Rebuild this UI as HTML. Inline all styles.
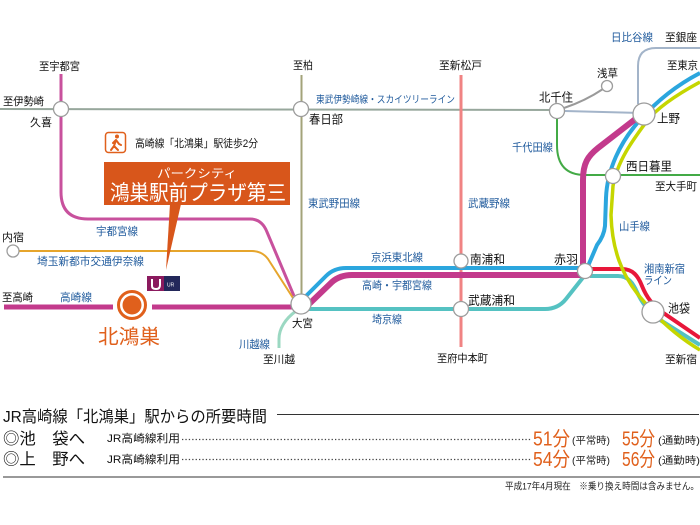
<!DOCTYPE html>
<html><head><meta charset="utf-8"><style>
html,body{margin:0;padding:0;background:#fff;}
svg{display:block;}
text{font-family:"Liberation Sans","Noto Sans CJK JP",sans-serif;}
.k{fill:#111;font-size:11px;}
.s{fill:#111;font-size:12px;}
.b{fill:#1f5a9c;font-size:11px;}
</style></head><body>
<svg width="700" height="525" viewBox="0 0 700 525" xmlns="http://www.w3.org/2000/svg">
<rect width="700" height="525" fill="#fff"/>
<g fill="none" stroke-linecap="butt" stroke-linejoin="round">
<!-- Tobu Isesaki -->
<path d="M0,109 L557,110" stroke="#97a79c" stroke-width="2"/>
<!-- Hibiya -->
<path d="M565,111 L640,113" stroke="#a3b4c9" stroke-width="2"/>
<path d="M638,104 L638,66 Q638,48 656,48 L700,48" stroke="#a3b4c9" stroke-width="2"/>
<!-- Asakusa -->
<path d="M564,108 Q585,101 603,89" stroke="#9a9a9a" stroke-width="2"/>
<!-- Chiyoda -->
<path d="M557,118 L557,145 Q557,175 585,175 L700,175" stroke="#43aa46" stroke-width="2"/>
<!-- Tobu Noda -->
<path d="M301.5,75 L301.5,296" stroke="#a3a37a" stroke-width="2"/>
<!-- Musashino -->
<path d="M461,75 L461,347" stroke="#f08383" stroke-width="3"/>
<!-- Utsunomiya thin -->
<path d="M61,74 L61,192 Q61,219 88,219 L250,219 Q262,219 267,232 L294,296" stroke="#c8519d" stroke-width="3"/>
<!-- Ina -->
<path d="M19,251 L252,251 Q262,251 268,259 L293,298" stroke="#e6a52c" stroke-width="2"/>
<!-- Kawagoe -->
<path d="M296,311 C285,319 279,329 279,339 L279,348" stroke="#9bd8c2" stroke-width="3"/>
<!-- Takasaki main -->
<path d="M4,307 L113,307" stroke="#c33a8c" stroke-width="5"/>
<path d="M152,307 L292,307" stroke="#c33a8c" stroke-width="5"/>
<!-- Saikyo -->
<path d="M305,309 L545,309 Q558,309 566,299 L585,275" stroke="#55c2c2" stroke-width="4"/>
<path d="M590,276 L618,276 C628,276 633,283 637,292 C641,301 647,310 657,318 L700,345" stroke="#55c2c2" stroke-width="4"/>
<!-- Red Shonan-Shinjuku -->
<path d="M590,269 L622,269 C633,269 638,276 642,286 C646,296 652,305 662,312 L700,338" stroke="#e8173a" stroke-width="4"/>
<!-- Keihin-Tohoku -->
<path d="M304,298 L326,276 Q334,268 346,268 L586,268" stroke="#2ba6de" stroke-width="4"/>
<path d="M588,266 L597,245 Q604,236 605,226 L606,198 C607,170 620,142 640,120 C655,103 675,86 700,73" stroke="#2ba6de" stroke-width="4"/>
<!-- Yamanote -->
<path d="M700,82 C676,95 657,108 647,121 C632,141 617,162 613,186 L611,215 C612,250 622,275 640,297 L653,312 C668,328 685,341 700,350" stroke="#c5d600" stroke-width="3.5"/>
<!-- Takasaki/Utsunomiya thick -->
<path d="M306,307 L332,282 Q340,275 352,275 L583,275 L583,180 C583,163 588,156 598,148 L638,117" stroke="#c33a8c" stroke-width="6"/>
</g>
<!-- stations -->
<g fill="#fff" stroke="#9c9c9c" stroke-width="1.3">
<circle cx="61" cy="109" r="7.5"/>
<circle cx="301" cy="109" r="7.5"/>
<circle cx="557" cy="111" r="7.5"/>
<circle cx="607" cy="86" r="5.5"/>
<circle cx="644" cy="114" r="11"/>
<circle cx="613" cy="176" r="7.5"/>
<circle cx="301" cy="304" r="10"/>
<circle cx="461" cy="261" r="7"/>
<circle cx="461" cy="309" r="7.5"/>
<circle cx="585" cy="271" r="7.5"/>
<circle cx="653" cy="312" r="11"/>
<circle cx="13" cy="251" r="6"/>
</g>
<!-- Kitakonosu marker -->
<circle cx="132" cy="305" r="13.5" fill="#fff" stroke="#e0601c" stroke-width="3"/>
<circle cx="132" cy="305" r="9.5" fill="#e0601c"/>
<!-- callout -->
<rect x="104" y="162" width="186" height="43" fill="#d8561b"/>
<polygon points="170,204 181,204 166,270" fill="#d8561b"/>
<!-- UR logo -->
<rect x="147" y="276" width="17" height="15" fill="#8b1a5e"/>
<rect x="164" y="276" width="16" height="15" fill="#23285a"/>
<path d="M152,279 L152,286 Q152,289 156,289 Q160,289 160,285 L160,279" fill="none" stroke="#fff" stroke-width="2"/>
<text x="167" y="286.5" font-size="5" fill="#fff" style="font-size:5px">UR</text>
<!-- walk icon -->
<rect x="105.5" y="132.5" width="20" height="20" rx="3" fill="#fff" stroke="#e0601c" stroke-width="1.5"/>
<g fill="#e0601c" stroke="#e0601c" stroke-linecap="round">
<circle cx="117" cy="136.5" r="2" stroke="none"/>
<path d="M116,140 L114,146 M116,140 L119,144 L121,145 M116,140 L113,143 M114,146 L111,150 M114,146 L118,150" stroke-width="2" fill="none"/>
</g>
<!-- labels -->
<text class="k" x="39" y="70.2" textLength="41" lengthAdjust="spacingAndGlyphs">至宇都宮</text>
<text class="k" x="3" y="105.2" textLength="41" lengthAdjust="spacingAndGlyphs">至伊勢崎</text>
<text class="k" x="30" y="126.2" textLength="22" lengthAdjust="spacingAndGlyphs">久喜</text>
<text class="k" x="293" y="69.2" textLength="20" lengthAdjust="spacingAndGlyphs">至柏</text>
<text class="s" x="309" y="123.6" textLength="34" lengthAdjust="spacingAndGlyphs">春日部</text>
<text class="b" x="316" y="102.8" textLength="139" lengthAdjust="spacingAndGlyphs" style="font-size:10px">東武伊勢崎線・スカイツリーライン</text>
<text class="k" x="439" y="69.2" textLength="43" lengthAdjust="spacingAndGlyphs">至新松戸</text>
<text class="s" x="539" y="101.6" textLength="34" lengthAdjust="spacingAndGlyphs">北千住</text>
<text class="k" x="597" y="77.2" textLength="21" lengthAdjust="spacingAndGlyphs">浅草</text>
<text class="b" x="611" y="41.2" textLength="42" lengthAdjust="spacingAndGlyphs">日比谷線</text>
<text class="k" x="665" y="41.2" textLength="32" lengthAdjust="spacingAndGlyphs">至銀座</text>
<text class="k" x="667" y="69.2" textLength="31" lengthAdjust="spacingAndGlyphs">至東京</text>
<text class="s" x="657" y="122.6" textLength="23" lengthAdjust="spacingAndGlyphs">上野</text>
<text class="b" x="512" y="151.2" textLength="41" lengthAdjust="spacingAndGlyphs">千代田線</text>
<text class="s" x="626" y="170.6" textLength="46" lengthAdjust="spacingAndGlyphs">西日暮里</text>
<text class="k" x="655" y="190.2" textLength="42" lengthAdjust="spacingAndGlyphs">至大手町</text>
<text class="k" x="135" y="147.2" textLength="123" lengthAdjust="spacingAndGlyphs">高崎線「北鴻巣」駅徒歩2分</text>
<text x="157" y="177.6" textLength="80" lengthAdjust="spacingAndGlyphs" style="font-size:12px;fill:#fff">パークシティ</text>
<text x="110" y="200" textLength="176" lengthAdjust="spacingAndGlyphs" style="font-size:21px;fill:#fff">鴻巣駅前プラザ第三</text>
<text class="b" x="308" y="207.2" textLength="52" lengthAdjust="spacingAndGlyphs">東武野田線</text>
<text class="b" x="468" y="207.2" textLength="42" lengthAdjust="spacingAndGlyphs">武蔵野線</text>
<text class="b" x="96" y="235.2" textLength="42" lengthAdjust="spacingAndGlyphs">宇都宮線</text>
<text class="k" x="2" y="241.2" textLength="22" lengthAdjust="spacingAndGlyphs">内宿</text>
<text class="b" x="37" y="265.2" textLength="107" lengthAdjust="spacingAndGlyphs">埼玉新都市交通伊奈線</text>
<text class="k" x="2" y="301.2" textLength="31" lengthAdjust="spacingAndGlyphs">至高崎</text>
<text class="b" x="60" y="301.2" textLength="32" lengthAdjust="spacingAndGlyphs">高崎線</text>
<text x="98" y="343.6" textLength="62" lengthAdjust="spacingAndGlyphs" style="font-size:20px;fill:#e0601c">北鴻巣</text>
<text class="k" x="292" y="327.2" textLength="21" lengthAdjust="spacingAndGlyphs">大宮</text>
<text class="b" x="239" y="348.2" textLength="31" lengthAdjust="spacingAndGlyphs">川越線</text>
<text class="k" x="263" y="363.2" textLength="32" lengthAdjust="spacingAndGlyphs">至川越</text>
<text class="b" x="371" y="261.2" textLength="52" lengthAdjust="spacingAndGlyphs">京浜東北線</text>
<text class="b" x="362" y="289.2" textLength="70" lengthAdjust="spacingAndGlyphs">高崎・宇都宮線</text>
<text class="b" x="372" y="323.2" textLength="30" lengthAdjust="spacingAndGlyphs">埼京線</text>
<text class="s" x="470" y="263.6" textLength="35" lengthAdjust="spacingAndGlyphs">南浦和</text>
<text class="s" x="468" y="304.6" textLength="47" lengthAdjust="spacingAndGlyphs">武蔵浦和</text>
<text class="k" x="437" y="362.2" textLength="51" lengthAdjust="spacingAndGlyphs">至府中本町</text>
<text class="s" x="554" y="263.6" textLength="24" lengthAdjust="spacingAndGlyphs">赤羽</text>
<text class="b" x="619" y="230.2" textLength="31" lengthAdjust="spacingAndGlyphs">山手線</text>
<text class="b" x="644" y="272.5" textLength="41" lengthAdjust="spacingAndGlyphs">湘南新宿</text>
<text class="b" x="644" y="284.2" textLength="28" lengthAdjust="spacingAndGlyphs">ライン</text>
<text class="s" x="668" y="312.6" textLength="22" lengthAdjust="spacingAndGlyphs">池袋</text>
<text class="k" x="665" y="363.2" textLength="32" lengthAdjust="spacingAndGlyphs">至新宿</text>
<!-- bottom table -->
<text x="3" y="422" textLength="264" lengthAdjust="spacingAndGlyphs" style="font-size:16px;fill:#111">JR高崎線「北鴻巣」駅からの所要時間</text>
<line x1="277" y1="414.5" x2="699" y2="414.5" stroke="#333" stroke-width="1"/>
<text x="3" y="444" textLength="82" lengthAdjust="spacingAndGlyphs" style="font-size:16px;fill:#111">◎池　袋へ</text>
<text x="3" y="464.5" textLength="82" lengthAdjust="spacingAndGlyphs" style="font-size:16px;fill:#111">◎上　野へ</text>
<text class="k" x="107" y="442.2" textLength="73" lengthAdjust="spacingAndGlyphs">JR高崎線利用</text>
<text class="k" x="107" y="463" textLength="73" lengthAdjust="spacingAndGlyphs">JR高崎線利用</text>
<line x1="182" y1="439.5" x2="531" y2="439.5" stroke="#444" stroke-width="1.3" stroke-dasharray="1.3,2.1"/>
<line x1="182" y1="459.5" x2="531" y2="459.5" stroke="#444" stroke-width="1.3" stroke-dasharray="1.3,2.1"/>
<g style="fill:#e0601c">
<text x="533" y="445.5" textLength="37" lengthAdjust="spacingAndGlyphs" style="font-size:20px">51分</text>
<text x="622" y="445.5" textLength="33" lengthAdjust="spacingAndGlyphs" style="font-size:20px">55分</text>
<text x="533" y="466" textLength="37" lengthAdjust="spacingAndGlyphs" style="font-size:20px">54分</text>
<text x="622" y="466" textLength="33" lengthAdjust="spacingAndGlyphs" style="font-size:20px">56分</text>
</g>
<g style="fill:#222">
<text x="572" y="443.8" textLength="38" lengthAdjust="spacingAndGlyphs" style="font-size:10px">(平常時)</text>
<text x="658" y="443.8" textLength="42" lengthAdjust="spacingAndGlyphs" style="font-size:10px">(通勤時)</text>
<text x="572" y="464" textLength="38" lengthAdjust="spacingAndGlyphs" style="font-size:10px">(平常時)</text>
<text x="658" y="464" textLength="42" lengthAdjust="spacingAndGlyphs" style="font-size:10px">(通勤時)</text>
</g>
<line x1="3" y1="477" x2="700" y2="477" stroke="#999" stroke-width="2"/>
<text x="505" y="489.6" textLength="194" lengthAdjust="spacingAndGlyphs" style="font-size:9.5px;fill:#222">平成17年4月現在　※乗り換え時間は含みません。</text>
</svg>
</body></html>
